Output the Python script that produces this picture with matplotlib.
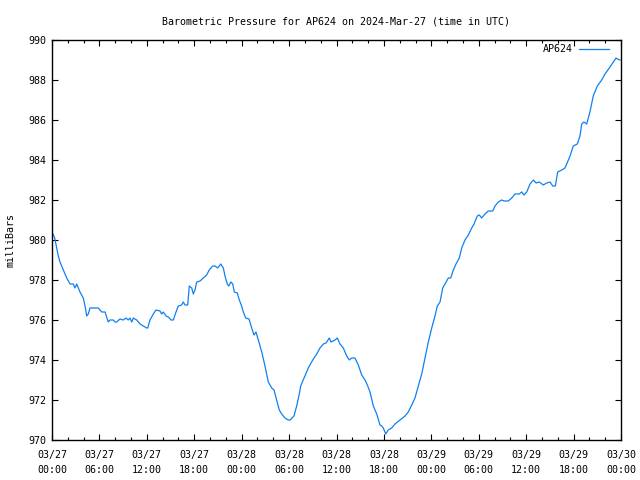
import matplotlib
matplotlib.use("Agg")
import matplotlib.pyplot as plt
import numpy as np

hours = [0.13, 0.34, 0.59, 0.80, 1.01, 1.43, 1.86, 2.28, 2.70, 2.91, 3.13, 3.54, 3.96, 4.18, 4.39, 4.59,
         4.81, 5.02, 5.86, 6.29, 6.71, 7.12, 7.34, 7.76, 7.97, 8.19, 8.60, 9.02, 9.36, 9.65, 9.87, 10.09,
         10.29, 10.72, 11.14, 11.55, 11.98, 12.11, 12.40, 12.82, 13.16, 13.67, 13.88, 14.08, 14.43, 14.72,
         15.06, 15.35, 15.69, 15.98, 16.41, 16.61, 16.83, 17.17, 17.37, 17.68, 17.88, 18.09, 18.31, 18.73,
         19.14, 19.57, 19.90, 20.33, 20.63, 20.97, 21.35, 21.68, 21.89, 22.18, 22.36, 22.65, 22.87, 23.07,
         23.45, 23.70, 24.00, 24.21, 24.51, 24.93, 25.27, 25.56, 25.81, 26.11, 26.54, 26.95, 27.37, 27.80,
         28.09, 28.43, 28.76, 29.07, 29.48, 29.90, 30.12, 30.62, 30.96, 31.29, 31.47, 32.01, 32.43, 32.99,
         33.50, 33.91, 34.33, 34.67, 35.09, 35.30, 35.81, 36.10, 36.44, 36.86, 37.29, 37.62, 37.92, 38.34,
         38.76, 39.19, 39.61, 39.90, 40.24, 40.66, 41.09, 41.50, 41.72, 41.92, 42.23, 42.55, 42.98, 43.40,
         44.03, 44.67, 45.08, 45.52, 45.93, 46.35, 46.78, 47.20, 47.62, 48.05, 48.46, 48.76, 49.10, 49.44,
         49.86, 50.15, 50.45, 50.78, 51.12, 51.54, 51.84, 52.26, 52.68, 53.11, 53.40, 53.82, 54.07, 54.37,
         54.79, 55.21, 55.77, 56.06, 56.47, 56.90, 57.19, 57.74, 58.17, 58.59, 59.13, 59.44, 59.73, 60.07,
         60.49, 60.91, 61.25, 61.67, 62.17, 62.60, 63.02, 63.36, 63.69, 63.99, 64.50, 64.91, 65.13, 65.55,
         65.96, 66.47, 66.81, 67.03, 67.31, 67.66, 68.07, 68.49, 69.00, 69.56, 69.97, 70.52, 71.03, 71.37,
         71.54, 71.88]

pressure = [980.3, 980.1, 979.6, 979.2, 978.9, 978.5, 978.1, 977.8, 977.8, 977.6, 977.8, 977.4, 977.1, 976.7, 976.2, 976.3,
            976.6, 976.6, 976.6, 976.4, 976.4, 975.9, 976.0, 976.0, 975.9, 975.9, 976.05, 976.0, 976.1, 976.0, 976.1, 975.9,
            976.1, 976.0, 975.8, 975.7, 975.6, 975.6, 976.0, 976.3, 976.5, 976.45, 976.3, 976.4, 976.2, 976.15,
            976.0, 976.0, 976.4, 976.7, 976.75, 976.9, 976.75, 976.75, 977.7, 977.6, 977.3, 977.5, 977.9, 977.95,
            978.1, 978.25, 978.5, 978.7, 978.7, 978.6, 978.8, 978.6, 978.2, 977.8, 977.7, 977.9, 977.8, 977.4,
            977.35, 977.0, 976.7, 976.4, 976.1, 976.05, 975.6, 975.25, 975.4, 975.0, 974.4, 973.7, 972.9, 972.6,
            972.5, 972.0, 971.5, 971.3, 971.1, 971.0, 971.0, 971.2, 971.7, 972.3, 972.7, 973.2, 973.6, 974.0,
            974.3, 974.6, 974.8, 974.85, 975.1, 974.9, 975.0, 975.1, 974.8, 974.6, 974.2, 974.0, 974.1, 974.1,
            973.75, 973.25, 973.0, 972.75, 972.4, 971.7, 971.3, 970.75, 970.7, 970.6, 970.3, 970.5, 970.6, 970.8,
            971.0, 971.2, 971.4, 971.75, 972.1, 972.7, 973.3, 974.1, 974.9, 975.6, 976.2, 976.7, 976.9, 977.6,
            977.9, 978.1, 978.1, 978.5, 978.8, 979.1, 979.6, 980.0, 980.25, 980.6, 980.8, 981.2, 981.25, 981.1,
            981.3, 981.45, 981.45, 981.7, 981.9, 982.0, 981.95, 981.95, 982.1, 982.3, 982.3, 982.4, 982.25, 982.4,
            982.8, 983.0, 982.85, 982.9, 982.75, 982.85, 982.9, 982.7, 982.7, 983.4, 983.5, 983.6, 983.8, 984.2,
            984.7, 984.8, 985.2, 985.8, 985.9, 985.8, 986.4, 987.2, 987.7, 988.0, 988.3, 988.6, 988.9, 989.1,
            989.05, 989.0]

xtick_hours = list(range(0, 73, 6))
xtick_labels = ["03/27\n00:00", "03/27\n06:00", "03/27\n12:00", "03/27\n18:00",
                "03/28\n00:00", "03/28\n06:00", "03/28\n12:00", "03/28\n18:00",
                "03/29\n00:00", "03/29\n06:00", "03/29\n12:00", "03/29\n18:00",
                "03/30\n00:00"]
ytick_vals = list(range(970, 991, 2))

FONT = "DejaVu Sans Mono"
FS = 7.2

fig = plt.figure(figsize=(6.4, 4.8), dpi=100)
ax = fig.add_axes([52/640, 1 - 440/480, (621-52)/640, 400/480])
ax.plot(hours, pressure, color="#1080f0", linewidth=0.9, label="AP624")
ax.set_xlim(0, 72)
ax.set_ylim(970, 990)
ax.set_xticks(xtick_hours)
ax.set_xticklabels(xtick_labels, fontfamily=FONT, fontsize=FS, linespacing=1.65)
ax.set_xticks(list(range(0, 73, 2)), minor=True)
ax.set_yticks(ytick_vals)
ax.set_yticklabels([str(v) for v in ytick_vals], fontfamily=FONT, fontsize=FS)
ax.tick_params(which="major", direction="in", length=4.5, width=0.8, top=True, right=True, pad=4)
ax.tick_params(axis="x", which="major", pad=7)
ax.tick_params(which="minor", direction="in", length=2.2, width=0.8, top=True, right=False, left=False)
for s in ax.spines.values():
    s.set_linewidth(1.0)
ax.set_title("Barometric Pressure for AP624 on 2024-Mar-27 (time in UTC)", fontfamily=FONT,
             fontsize=FS, pad=11)
ax.set_ylabel("milliBars", fontfamily=FONT, fontsize=FS, labelpad=9)
leg = ax.legend(loc="upper right", bbox_to_anchor=(1 - 9/569, 1 - 1/400), frameon=False,
                markerfirst=False, handlelength=3.0,
                prop={"family": FONT, "size": FS}, borderaxespad=0.0, borderpad=0.35,
                handletextpad=0.6)
fig.savefig("out.png", dpi=100)
